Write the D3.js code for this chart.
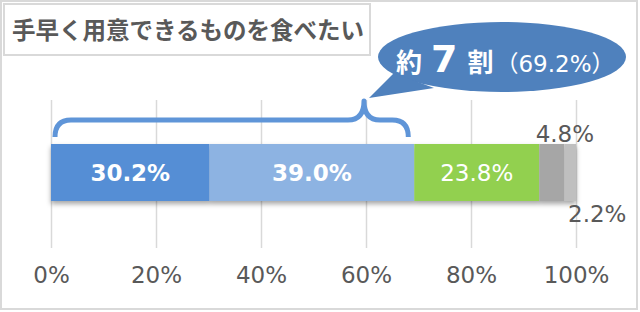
<!DOCTYPE html>
<html>
  <head>
    <meta charset="utf-8">
    <title>手早く用意できるものを食べたい</title>
    <script src="https://cdn.jsdelivr.net/npm/d3@7"></script>
    <style>
      body { margin: 0; background: #fff; }
      svg { display: block; }
    </style>
  </head>
  <body>
    <div id="chart"></div>
    <script>
    // data
    var title = '手早く用意できるものを食べたい';
    var segments = ['seg1', 'seg2', 'seg3', 'seg4', 'seg5'];
    var values = [30.2, 39.0, 23.8, 4.8, 2.2];
    var colors = ['#558ed5', '#8db3e2', '#92d050', '#a6a6a6', '#bfbfbf'];
    var tickValues = [0, 20, 40, 60, 80, 100];
    var calloutMain = ['約', '7', '割'];
    var calloutNote = '（69.2%）';

    (function(){
        var W = 640, H = 312;
        var FONT = '"DejaVu Sans", "Noto Sans CJK JP", sans-serif';
        var CJK = '"Noto Sans CJK JP", sans-serif';
        var GRAY = '#595959';

        var svg = d3.select('#chart').append('svg')
            .attr('width', W).attr('height', H);

        var defs = svg.append('defs');
        defs.append('filter').attr('id', 'shadow')
            .attr('x', '-5%').attr('y', '-20%').attr('width', '110%').attr('height', '150%')
          .append('feDropShadow')
            .attr('dx', 0).attr('dy', 3).attr('stdDeviation', 2.5)
            .attr('flood-color', '#000').attr('flood-opacity', 0.35);

        // outer frame and title box
        svg.append('rect').attr('x', 1).attr('y', 1).attr('width', W - 4).attr('height', H - 4)
            .attr('fill', 'none').attr('stroke', '#d9d9d9').attr('stroke-width', 2);
        svg.append('rect').attr('x', 4).attr('y', 4).attr('width', 366).attr('height', 51)
            .attr('fill', '#fff').attr('stroke', '#d9d9d9').attr('stroke-width', 2);
        svg.append('text').attr('x', 12).attr('y', 39)
            .attr('font-family', CJK).attr('font-weight', 'bold')
            .attr('font-size', 23.5).attr('fill', GRAY)
            .text(title);

        var x = d3.scaleLinear().domain([0, 100]).range([51, 576]);
        var barTop = 144, barH = 57;
        var gridTop = 100, gridBottom = 248;

        // grid + tick labels
        var axis = d3.axisBottom(x).tickValues(tickValues)
            .tickSize(-(gridBottom - gridTop)).tickPadding(19)
            .tickFormat(function(d){ return d + '%'; });
        var g = svg.append('g').attr('transform', 'translate(0,' + gridBottom + ')').call(axis);
        g.select('.domain').remove();
        g.selectAll('.tick line').attr('stroke', '#d9d9d9').attr('stroke-width', 1.5);
        g.selectAll('.tick text').attr('fill', GRAY)
            .attr('font-family', FONT).attr('font-size', 23);

        // stacked bar
        var starts = [];
        var acc = 0;
        for(var i = 0; i < values.length; i++){
            starts.push(acc);
            acc += values[i];
        }
        var bar = svg.append('g').attr('filter', 'url(#shadow)');
        bar.selectAll('rect')
           .data(values)
           .enter()
           .append('rect')
           .attr('x', function(d, i){ return x(starts[i]); })
           .attr('y', barTop)
           .attr('width', function(d){ return x(d) - x(0); })
           .attr('height', barH)
           .attr('fill', function(d, i){ return colors[i]; });

        // labels inside the three big segments
        svg.selectAll('text.inner')
           .data(values.slice(0, 3))
           .enter()
           .append('text')
           .attr('class', 'inner')
           .attr('x', function(d, i){ return x(starts[i] + d / 2); })
           .attr('y', barTop + barH / 2)
           .attr('dy', '0.36em')
           .attr('text-anchor', 'middle')
           .attr('font-family', FONT).attr('font-size', 23)
           .attr('font-weight', function(d, i){ return i < 2 ? 'bold' : 'normal'; })
           .attr('fill', '#fff')
           .text(function(d){ return d.toFixed(1) + '%'; });

        // small segments labelled outside
        svg.append('text')
           .attr('x', x(starts[3] + values[3] / 2) + 13).attr('y', 142)
           .attr('text-anchor', 'middle')
           .attr('font-family', FONT).attr('font-size', 23).attr('fill', GRAY)
           .text(values[3].toFixed(1) + '%');
        svg.append('text')
           .attr('x', x(starts[4] + values[4] / 2) + 27).attr('y', 222)
           .attr('text-anchor', 'middle')
           .attr('font-family', FONT).attr('font-size', 23).attr('fill', GRAY)
           .text(values[4].toFixed(1) + '%');

        // curly brace over the first two segments
        var bx0 = x(0) + 4, bx1 = x(values[0] + values[1]) - 6;
        var bmid = x(60) - 2, by = 120, bend = 137, btip = 101, r = 16;
        var brace = d3.path();
        brace.moveTo(bx0, bend);
        brace.quadraticCurveTo(bx0, by, bx0 + r, by);
        brace.lineTo(bmid - r, by);
        brace.quadraticCurveTo(bmid, by, bmid, btip);
        brace.quadraticCurveTo(bmid, by, bmid + r, by);
        brace.lineTo(bx1 - r, by);
        brace.quadraticCurveTo(bx1, by, bx1, bend);
        svg.append('path').attr('d', brace.toString())
           .attr('fill', 'none').attr('stroke', '#5f95d8')
           .attr('stroke-width', 5).attr('stroke-linejoin', 'round');

        // callout bubble
        var cx = 502, cy = 57, rx = 124, ry = 35;
        var bubble = svg.append('g');
        bubble.append('ellipse').attr('cx', cx).attr('cy', cy).attr('rx', rx).attr('ry', ry)
            .attr('fill', '#4f81bd');
        bubble.append('path')
            .attr('d', 'M' + (cx - 108) + ',' + (cy + 16) + ' L' + (bmid + 5) + ',' + (btip - 3) +
                       ' L' + (cx - 68) + ',' + (cy + 31) + ' Z')
            .attr('fill', '#4f81bd');

        var t = bubble.append('text').attr('x', 396).attr('y', 72)
            .attr('fill', '#fff').attr('font-family', CJK);
        t.append('tspan').attr('font-size', 26).attr('font-weight', 'bold').text(calloutMain[0]);
        t.append('tspan').attr('dx', 9).attr('font-family', FONT)
            .attr('font-size', 38).attr('font-weight', 'bold').text(calloutMain[1]);
        t.append('tspan').attr('dx', 10).attr('font-size', 26).attr('font-weight', 'bold').text(calloutMain[2]);
        t.append('tspan').attr('dx', 2).attr('font-size', 23).attr('font-family', FONT).text(calloutNote);
    })();
    </script>
  </body>
</html>
